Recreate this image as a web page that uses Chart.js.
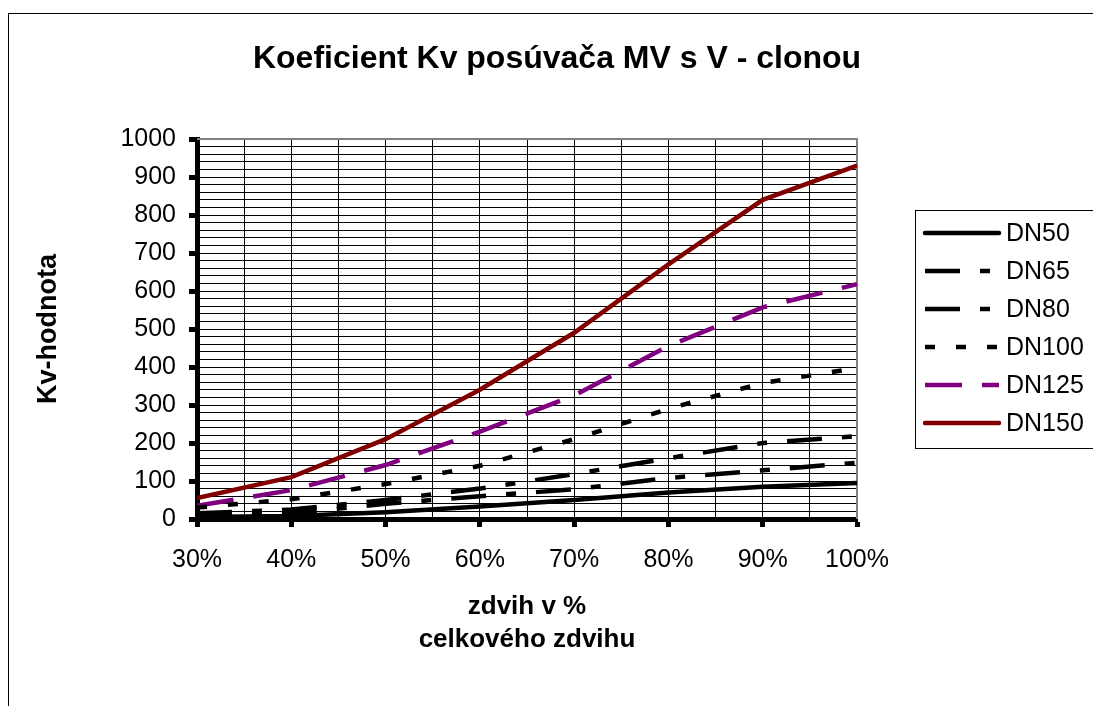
<!DOCTYPE html>
<html>
<head>
<meta charset="utf-8">
<script src="https://cdn.jsdelivr.net/npm/chart.js@4"></script>
<style>
html, body { margin: 0; padding: 0; background: #fff; overflow: hidden; }
#frame { position: absolute; left: 8px; top: 13px; width: 1100px; height: 700px; border-left: 1px solid #000; border-top: 1px solid #000; }
canvas { display: block; }
</style>
</head>
<body>
<div id="frame"><canvas id="kvChart" width="1084" height="692"></canvas></div>
<script>
// zdvih v % celkového zdvihu
const zdvih = [30, 40, 50, 60, 70, 80, 90, 100];

// Kv-hodnota pre jednotlivé DN
const dn50  = [5, 8, 18, 33, 50, 70, 85, 95];
const dn65  = [5, 15, 40, 60, 78, 108, 128, 148];
const dn80  = [15, 25, 50, 80, 118, 160, 200, 218];
const dn100 = [30, 52, 92, 140, 210, 290, 358, 397];
const dn125 = [35, 76, 142, 230, 325, 455, 557, 618];
const dn150 = [55, 110, 210, 340, 490, 670, 840, 930];

const FONT = "'Liberation Sans', Arial, sans-serif";

function points(values) {
    return values.map((v, i) => ({ x: zdvih[i], y: v }));
}

// nadpis grafu
const titlePlugin = {
    id: 'titlePlugin',
    afterDraw(chart) {
        const ctx = chart.ctx;
        ctx.save();
        ctx.font = 'bold 32px ' + FONT;
        ctx.fillStyle = '#000';
        ctx.textAlign = 'center';
        ctx.textBaseline = 'middle';
        ctx.fillText('Koeficient Kv posúvača MV s V - clonou', 548, 45);
        ctx.restore();
    }
};

// sivý rámik hore a vpravo
const plotFrame = {
    id: 'plotFrame',
    beforeDatasetsDraw(chart) {
        const a = chart.chartArea;
        const ctx = chart.ctx;
        ctx.save();
        ctx.strokeStyle = '#808080';
        ctx.lineWidth = 2;
        ctx.beginPath();
        ctx.moveTo(a.left, a.top);
        ctx.lineTo(a.right, a.top);
        ctx.lineTo(a.right, a.bottom);
        ctx.stroke();
        ctx.restore();
    }
};

// legenda v rámčeku
const legendBox = {
    id: 'legendBox',
    afterDraw(chart) {
        const ctx = chart.ctx;
        const left = 906, top = 196, rowH = 38;
        ctx.save();
        ctx.strokeStyle = '#000';
        ctx.lineWidth = 1;
        ctx.setLineDash([]);
        ctx.strokeRect(left + 0.5, top + 0.5, 300, rowH * 6 + 10);
        chart.data.datasets.forEach((ds, i) => {
            const y = top + 23 + i * rowH;
            ctx.strokeStyle = ds.borderColor;
            ctx.lineWidth = ds.borderWidth;
            ctx.setLineDash(ds.borderDash || []);
            ctx.lineCap = ds.borderDash ? 'butt' : 'round';
            ctx.beginPath();
            ctx.moveTo(left + 10, y);
            ctx.lineTo(left + 84, y);
            ctx.stroke();
            ctx.setLineDash([]);
            ctx.fillStyle = '#000';
            ctx.font = '25px ' + FONT;
            ctx.textBaseline = 'middle';
            ctx.textAlign = 'left';
            ctx.fillText(ds.label, left + 91, y + 1);
        });
        ctx.restore();
    }
};

const ctx = document.getElementById('kvChart').getContext('2d');
new Chart(ctx, {
    type: 'line',
    data: {
        datasets: [
            { label: 'DN50',  data: points(dn50),  borderColor: '#000000', borderWidth: 4.5 },
            { label: 'DN65',  data: points(dn65),  borderColor: '#000000', borderWidth: 4.5, borderDash: [35, 20, 10, 20] },
            { label: 'DN80',  data: points(dn80),  borderColor: '#000000', borderWidth: 4.5, borderDash: [35, 20, 10, 20] },
            { label: 'DN100', data: points(dn100), borderColor: '#000000', borderWidth: 4.5, borderDash: [10, 21] },
            { label: 'DN125', data: points(dn125), borderColor: '#800080', borderWidth: 4.5, borderDash: [37, 20] },
            { label: 'DN150', data: points(dn150), borderColor: '#800000', borderWidth: 4.5 }
        ]
    },
    options: {
        responsive: false,
        animation: false,
        events: [],
        layout: { padding: { left: 0, top: 125, right: 236, bottom: 0 } },
        elements: {
            point: { radius: 0 },
            line: { tension: 0, borderCapStyle: 'butt' }
        },
        plugins: {
            legend: { display: false },
            title: { display: false },
            tooltip: { enabled: false }
        },
        scales: {
            x: {
                type: 'linear',
                min: 30,
                max: 100,
                afterFit: s => { s.height = 187; },
                ticks: {
                    stepSize: 5,
                    autoSkip: false,
                    maxRotation: 0,
                    padding: 18,
                    color: '#000',
                    font: { family: FONT, size: 25 },
                    callback: v => (v % 10 === 0 ? v + '%' : '')
                },
                grid: {
                    color: '#000',
                    lineWidth: 1,
                    tickLength: 8,
                    tickWidth: 5,
                    tickColor: c => (c.tick && c.tick.value % 10 === 0 ? '#000' : 'rgba(0,0,0,0)')
                },
                border: { display: true, color: '#000', width: 5 },
                title: {
                    display: true,
                    text: ['zdvih v %', 'celkového zdvihu'],
                    color: '#000',
                    font: { family: FONT, size: 26, weight: 'bold', lineHeight: 1.27 },
                    padding: { top: 0, bottom: 50 }
                }
            },
            y: {
                min: 0,
                max: 1000,
                afterFit: s => { s.width = 188; },
                ticks: {
                    stepSize: 20,
                    autoSkip: false,
                    padding: 13,
                    color: '#000',
                    font: { family: FONT, size: 25 },
                    callback: v => (v % 100 === 0 ? v : '')
                },
                grid: {
                    color: '#000',
                    lineWidth: 1,
                    tickLength: 8,
                    tickWidth: 5,
                    tickColor: c => (c.tick && c.tick.value % 100 === 0 ? '#000' : 'rgba(0,0,0,0)')
                },
                border: { display: true, color: '#000', width: 5 },
                title: {
                    display: true,
                    text: 'Kv-hodnota',
                    color: '#000',
                    font: { family: FONT, size: 27, weight: 'bold', lineHeight: 1.27 },
                    padding: { top: 22, bottom: 0 }
                }
            }
        }
    },
    plugins: [titlePlugin, plotFrame, legendBox]
});
</script>
</body>
</html>
